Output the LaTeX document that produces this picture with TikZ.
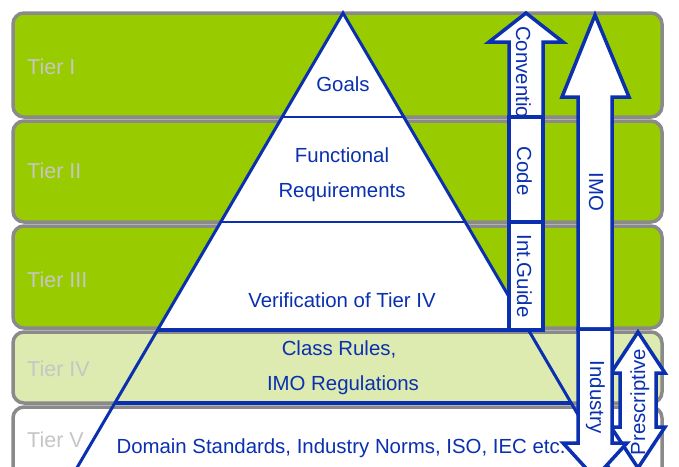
\documentclass[tikz,border=0pt]{standalone}
\usepackage{fontspec}
\setmainfont{Liberation Sans}
\definecolor{tiergreen}{HTML}{99CC00}
\definecolor{tierpale}{HTML}{DDEAB0}
\definecolor{tierframe}{HTML}{8A8A8A}
\definecolor{ruleblue}{HTML}{0A30B0}
\definecolor{labelgrey}{HTML}{C6C6C6}

\begin{document}
\begin{tikzpicture}[x=1pt,y=-1pt,
  tier/.style={draw=tierframe, line width=3.5pt, rounded corners=11pt},
  tiername/.style={anchor=base west, inner sep=0pt, text=labelgrey,
                   font=\fontsize{21.5}{25}\selectfont},
  thinrule/.style={draw=ruleblue, line width=2pt},
  thickrule/.style={draw=ruleblue, line width=3.5pt},
  pyredge/.style={draw=ruleblue, line width=3pt},
  blockarrow/.style={draw=ruleblue, fill=white, line width=3.5pt, line join=miter},
  bluetext/.style={anchor=base, inner sep=0pt, text=ruleblue,
                   font=\fontsize{20.4}{24}\selectfont},
]
\useasboundingbox (0,0) rectangle (679,466);
\begin{scope}
\clip (0,0) rectangle (679,466);

% --- tier bands ---
\path[tier, fill=tiergreen] (13,13)  rectangle (662,117);
\path[tier, fill=tiergreen] (13,121) rectangle (662,222);
\path[tier, fill=tiergreen] (13,226) rectangle (662,328);
\path[tier, fill=tierpale]  (13,332) rectangle (662,403);
\path[tier, fill=white]     (13,407) rectangle (662,520);

\node[tiername] (t1) at (27,74)  {Tier I};
\node[tiername] (t2) at (27,178) {Tier II};
\node[tiername] (t3) at (27,287) {Tier III};
\node[tiername] (t4) at (27,376) {Tier IV};
\node[tiername] (t5) at (27,447) {Tier V};

% --- pyramid ---
\coordinate (apex) at (343,13);
\coordinate (l1) at (282.2,117);  \coordinate (r1) at (403.8,117);
\coordinate (l2) at (220.7,222);  \coordinate (r2) at (465.3,222);
\coordinate (l3) at (157.6,330);  \coordinate (r3) at (528.4,330);
\coordinate (l4) at (114.8,403);  \coordinate (r4) at (571.2,403);
\coordinate (l5) at (58.1,500);   \coordinate (r5) at (627.9,500);

\fill[white] (apex) -- (l3) -- (r3) -- cycle;
\draw[thinrule]  (l1) -- (r1);
\draw[thinrule]  (l2) -- (r2);
\draw[thickrule] (l3) -- (r3);
\draw[thickrule] (l4) -- (r4);
\draw[pyredge, line join=miter] (l5) -- (apex) -- (r5);

\node[bluetext] (goals) at (343,91)  {Goals};
\node[bluetext] (func)  at (342,162) {Functional};
\node[bluetext] (req)   at (342,197) {Requirements};
\node[bluetext] (verif) at (342,307) {Verification of Tier IV};
\node[bluetext] (rules) at (339,355) {Class Rules,};
\node[bluetext] (imoreg) at (343,390) {IMO Regulations};
\node[bluetext] (domain) at (341,453) {Domain Standards, Industry Norms, ISO, IEC etc.};

% --- Convention / Code / Int.Guide column ---
\path[blockarrow] (509,117) -- (509,42) -- (489,42) -- (526,13)
                  -- (563,42) -- (543,42) -- (543,117) -- cycle;
\node[bluetext, anchor=base west, rotate=-90] (conv) at (516,26) {Convention};
\path[blockarrow] (509,117) rectangle (543,222);
\node[bluetext, rotate=-90] (code) at (517,171) {Code};
\path[blockarrow] (509,222) rectangle (543,330);
\node[bluetext, rotate=-90] (guide) at (517,276) {Int.Guide};

% --- IMO arrow (up) ---
\path[blockarrow] (578,329) -- (578,97) -- (562,97) -- (595,15)
                  -- (629,97) -- (612,97) -- (612,329) -- cycle;
\node[bluetext, rotate=-90] (imo) at (589,192) {IMO};

% --- Prescriptive double arrow ---
\path[blockarrow] (620,373) -- (611,373) -- (638,332) -- (665,373) -- (656,373)
                  -- (656,427) -- (665,427) -- (638,468) -- (611,427) -- (620,427) -- cycle;
\node[bluetext, rotate=90] (presc) at (645,402) {Prescriptive};

% --- Industry arrow (down) ---
\path[blockarrow] (578,329) -- (612,329) -- (612,443) -- (627,443) -- (595,478)
                  -- (563,443) -- (578,443) -- cycle;
\node[bluetext, rotate=-90] (industry) at (590,397) {Industry};

\end{scope}
\end{tikzpicture}
\end{document}
